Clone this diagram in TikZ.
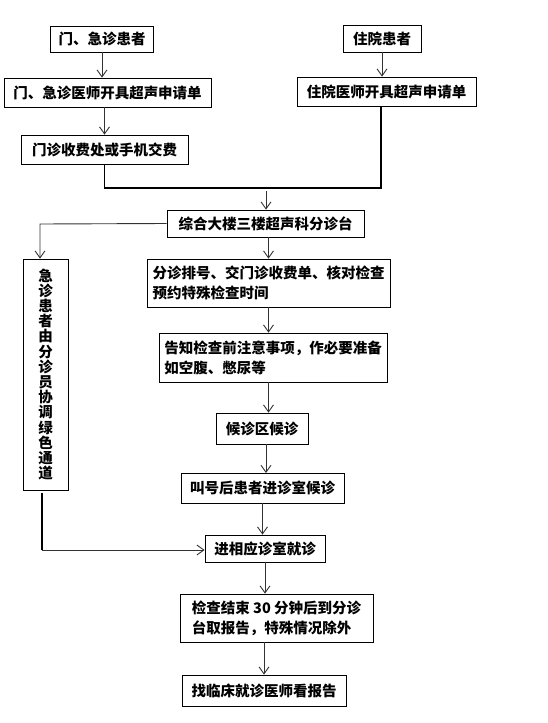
\documentclass[tikz,border=0pt]{standalone}
\usepackage{fontspec}
\setmainfont{Noto Sans CJK SC}
\usetikzlibrary{arrows.meta,positioning}

\tikzset{
  box/.style={draw,line width=0.8pt,inner sep=0pt,align=left,
    font=\bfseries\fontsize{14.5}{20}\selectfont},
  arr/.style={draw=black!80,line width=0.9pt,-{Straight Barb[length=7pt,width=10pt]}},
  joinline/.style={line width=1.8pt},
}

\begin{document}
\begin{tikzpicture}[x=1pt,y=-1pt]
  \useasboundingbox (0,0) rectangle (547,723);
  % entry boxes
  \node[box,minimum width=103,minimum height=26] (b1) at (102,39) {门、急诊患者};
  \node[box,minimum width=78,minimum height=27] (b2) at (382,38.5) {住院患者};
  \node[box,minimum width=207,minimum height=29] (b3) at (107.5,92.5) {门、急诊医师开具超声申请单};
  \node[box,minimum width=179,minimum height=29] (b4) at (386.5,91.5) {住院医师开具超声申请单};
  \node[box,minimum width=167,minimum height=29] (b5) at (104.5,149.5) {门诊收费处或手机交费};
  % main line
  \node[box,minimum width=197,minimum height=27] (b6) at (265.5,223.5) {综合大楼三楼超声科分诊台};
  \node[box,minimum width=45,minimum height=231,align=center,
    font=\bfseries\fontsize{14.5}{15.2}\selectfont] (b7) at (45.5,374.5)
    {急\\诊\\患\\者\\由\\分\\诊\\员\\协\\调\\绿\\色\\通\\道};
  \node[box,minimum width=243,minimum height=48] (b8) at (268.5,283)
    {分诊排号、交门诊收费单、核对检查\\预约特殊检查时间};
  \node[box,minimum width=228,minimum height=49] (b9) at (273,357.5)
    {告知检查前注意事项，作必要准备\\如空腹、憋尿等};
  \node[box,minimum width=92,minimum height=31] (b10) at (262,428.5) {候诊区候诊};
  \node[box,minimum width=163,minimum height=30] (b11) at (262.5,488) {叫号后患者进诊室候诊};
  \node[box,minimum width=120,minimum height=27] (b12) at (265,548.5) {进相应诊室就诊};
  \node[box,minimum width=193,minimum height=48] (b13) at (276.5,618)
    {检查结束 30 分钟后到分诊\\台取报告，特殊情况除外};
  \node[box,minimum width=164,minimum height=31] (b14) at (264,690.5) {找临床就诊医师看报告};

  \coordinate (j1) at (104.5,188);
  \coordinate (j2) at (381,188);
  \coordinate (j3) at (266,191);
  \coordinate (l1) at (40,224);
  \coordinate (l2) at (42,493);
  \coordinate (l3) at (42,550);

  \draw[arr] (b1.south) -- (b1.south |- b3.north);
  \draw[arr] (b2.south) -- (b2.south |- b4.north);
  \draw[arr] (b5 |- b3.south) -- (b5.north);
  \draw[joinline] (b5.south) -- (j1) -- (j2) -- (j2 |- b4.south);
  \draw[arr] (j3) -- (j3 |- b6.north);
  \draw[arr] (b6.west) -- (l1) -- (l1 |- b7.north);
  \draw[arr] (b8 |- b6.south) -- (b8.north);
  \draw[arr] (b8.south) -- (b8.south |- b9.north);
  \draw[arr] (b8 |- b9.south) -- (b8 |- b10.north);
  \draw[arr] (266,444) -- (266,473);
  \draw[arr] (b11.south) -- (b11.south |- b12.north);
  \draw[arr] (b12.south) -- (b12.south |- b13.north);
  \draw[arr] (b14 |- b13.south) -- (b14.north);
  \draw[joinline] (l2) -- (l3);
  \draw[arr] (l3) -- (l3 -| b12.west);
\end{tikzpicture}
\end{document}
